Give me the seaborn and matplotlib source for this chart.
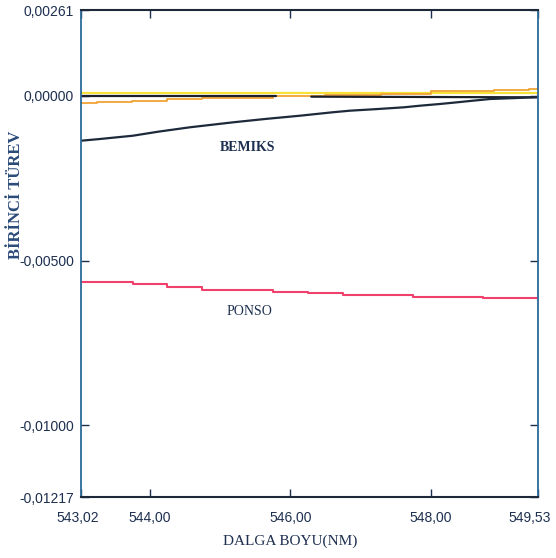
import matplotlib
matplotlib.use("Agg")
import matplotlib.pyplot as plt
import matplotlib.transforms as mtransforms
import seaborn as sns
import numpy as np

sns.set_theme(style="white")
plt.rcParams['font.family'] = ['Liberation Sans', 'DejaVu Sans']

# Data
bemiks_x = [543.02, 543.29, 543.76, 544.12, 544.57, 545.19, 545.64, 546.14, 546.60,
            546.85, 547.25, 547.62, 547.85, 548.13, 548.38, 548.60, 548.85, 549.23, 549.53]
bemiks_y = [-0.001357, -0.001305, -0.001205, -0.001083, -0.000950, -0.000798, -0.000698,
            -0.000598, -0.000495, -0.000446, -0.000395, -0.000343, -0.000294, -0.000243,
            -0.000191, -0.000143, -0.000091, -0.000061, -0.000030]

ponso_x = [543.02, 543.76, 544.25, 544.75, 545.75, 546.25, 546.75, 547.75, 548.75, 549.53]
ponso_y = [-0.005645, -0.005705, -0.005797, -0.005879, -0.005939, -0.005988,
           -0.006030, -0.006091, -0.006140, -0.006140]

orange_x = [543.02, 543.25, 543.75, 544.25, 544.75, 545.75, 546.5, 547.3, 548.0, 548.9, 549.4, 549.53]
orange_y = [-0.00021, -0.00018, -0.00015, -0.00009, -0.00005, -0.00001, 0.00004,
            0.00006, 0.00015, 0.00018, 0.00022, 0.00022]

yellow_x = [543.02, 546.0, 549.53]
yellow_y = [0.00010, 0.00008, 0.00004]

zero1_x = [543.02, 545.80]
zero1_y = [0.0, 0.0]
zero2_x = [546.30, 549.53]
zero2_y = [-0.00002, -0.00004]

x_ticks = [543.02, 544.00, 546.00, 548.00, 549.53]
x_labels = ["543,02", "544,00", "546,00", "548,00", "549,53"]
y_ticks = [0.00261, 0.0, -0.005, -0.01, -0.01217]
y_labels = ["0,00261", "0,00000", "-0,00500", "-0,01000", "-0,01217"]

navy = "#1d2f4f"

fig = plt.figure(figsize=(5.56, 5.58), dpi=100)
ax = fig.add_axes([81/556, 1 - 497/558, (538-81)/556, (497-10)/558])

sns.lineplot(x=yellow_x, y=yellow_y, ax=ax, color="#f7e23a", lw=1.6, drawstyle="steps-post")
sns.lineplot(x=orange_x, y=orange_y, ax=ax, color="#f0a234", lw=1.3, drawstyle="steps-post")
sns.lineplot(x=zero1_x, y=zero1_y, ax=ax, color="#1a1f2a", lw=1.6)
sns.lineplot(x=zero2_x, y=zero2_y, ax=ax, color="#1a1f2a", lw=1.6)
sns.lineplot(x=bemiks_x, y=bemiks_y, ax=ax, color="#1c2a3c", lw=1.6)
sns.lineplot(x=ponso_x, y=ponso_y, ax=ax, color="#f0406c", lw=1.5, drawstyle="steps-post")

ax.set_xlim(543.02, 549.53)
ax.set_ylim(-0.01217, 0.00261)

ax.set_xticks(x_ticks)
ax.set_xticklabels(x_labels)
ax.set_yticks(y_ticks)
ax.set_yticklabels(y_labels)
ax.tick_params(axis='both', which='both', direction='in', length=6, width=1,
               top=True, right=True, bottom=True, left=True,
               labelsize=10, labelcolor=navy, color=navy, pad=5)
ax.tick_params(axis='x', pad=10)
for lbl in ax.get_xticklabels() + ax.get_yticklabels():
    lbl.set_fontstretch('condensed')
last = ax.get_xticklabels()[-1]
last.set_transform(last.get_transform() +
                   mtransforms.ScaledTranslation(-8/100, 0, fig.dpi_scale_trans))
first = ax.get_xticklabels()[0]
first.set_transform(first.get_transform() +
                    mtransforms.ScaledTranslation(-3/100, 0, fig.dpi_scale_trans))

for side in ['top', 'bottom']:
    ax.spines[side].set_color("#1d2838")
    ax.spines[side].set_linewidth(1.5)
for side in ['left', 'right']:
    ax.spines[side].set_color("#2b6a97")
    ax.spines[side].set_linewidth(1.3)

serif = ['Liberation Serif', 'DejaVu Serif']
ax.text(545.0, -0.00155, "BEMIKS", family=serif, fontsize=10, color=navy,
        ha='left', va='center', fontweight='bold')
ax.text(545.1, -0.00655, "PONSO", family=serif, fontsize=10, color=navy,
        ha='left', va='center')

ax.set_xlabel("")
ax.set_ylabel("")
fig.text(290/556, 1 - 541/558, "DALGA BOYU(NM)", family=serif, fontsize=11,
         color=navy, ha='center', va='center')
fig.text(16/556, 1 - 195/558, "BİRİNCİ TÜREV", family=serif, fontsize=12,
         color="#2a4a78", ha='center', va='center', rotation=90, fontweight='bold')

fig.savefig("out.png", dpi=100)
